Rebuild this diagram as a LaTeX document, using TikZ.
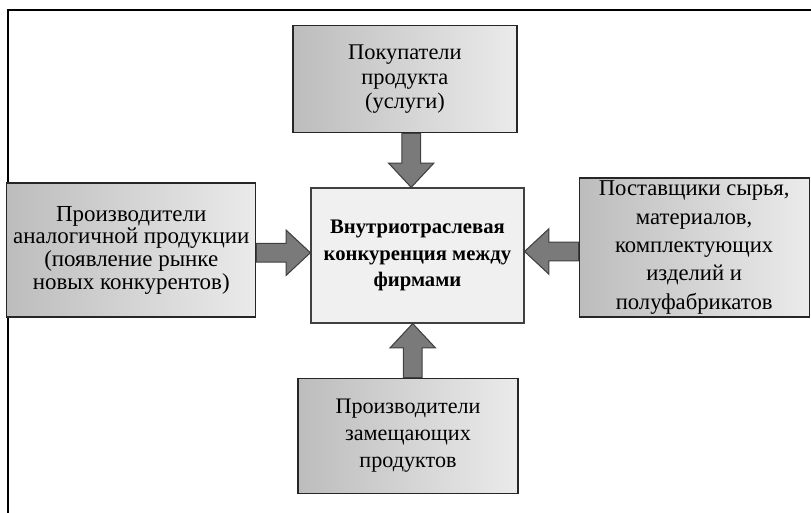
\documentclass[tikz,border=0pt]{standalone}
\usepackage{fontspec}
\setmainfont{Liberation Serif}
\usetikzlibrary{positioning,calc}

\begin{document}
\begin{tikzpicture}[
  side/.style={draw=black!85, line width=0.9pt, align=center, inner sep=1pt,
    left color=black!26, right color=black!8},
  core/.style={draw=black!75, line width=0.9pt, align=center, inner sep=2pt,
    fill=black!6, font=\bfseries\fontsize{15.5}{20}\selectfont},
  blk/.style={draw=black!75, line width=0.8pt, fill=black!52},
  frameline/.style={line width=1.5pt},
  node distance=40.5pt
]
  \useasboundingbox (0,0) rectangle (608.25pt,-384pt);
  \draw[frameline] (6pt,-7.5pt) rectangle (640pt,-420pt);

  \node[core, minimum width=159.75pt, minimum height=101.25pt] (mid) at (313.1pt,-191.6pt)
    {Внутриотраслевая\\ конкуренция между\\ фирмами};
  \node[side, minimum width=168pt, minimum height=80.25pt, above=of mid, xshift=-9.4pt,
    font=\fontsize{16.8}{18.5}\selectfont] (buyers) {Покупатели\\ продукта\\ (услуги)};
  \node[side, minimum width=186.75pt, minimum height=100.5pt, left=of mid, yshift=4.1pt,
    font=\fontsize{17.2}{17}\selectfont] (rivals)
    {Производители\\ аналогичной продукции\\ (появление рынке\\ новых конкурентов)};
  \node[side, minimum width=172.5pt, minimum height=104.25pt, right=of mid, yshift=6pt,
    font=\fontsize{17}{21.3}\selectfont] (suppliers)
    {Поставщики сырья,\\ материалов,\\ комплектующих\\ изделий и\\ полуфабрикатов};
  \node[side, minimum width=165pt, minimum height=86.25pt, below=of mid, xshift=-7.1pt,
    font=\fontsize{16.6}{20}\selectfont] (substitutes)
    {Производители\\ замещающих\\ продуктов};

  % ends of the block arrows
  \coordinate (c1) at ($(buyers.south)!.5!(mid.north)$);
  \coordinate (a1) at (c1 |- buyers.south);  \coordinate (b1) at (c1 |- mid.north);
  \coordinate (c2) at ($(rivals.east)!.5!(mid.west)$);
  \coordinate (a2) at (c2 -| rivals.east);   \coordinate (b2) at (c2 -| mid.west);
  \coordinate (c3) at ($(suppliers.west)!.5!(mid.east)$);
  \coordinate (a3) at (c3 -| suppliers.west); \coordinate (b3) at (c3 -| mid.east);
  \coordinate (c4) at ($(substitutes.north)!.5!(mid.south)$);
  \coordinate (a4) at (c4 |- substitutes.north); \coordinate (b4) at (c4 |- mid.south);

  \foreach \i in {1,...,4} {
    \coordinate (h) at ($(a\i)!.55!(b\i)$);
    \draw[blk] ($(a\i)!7pt!90:(b\i)$) -- ($(h)!7pt!90:(b\i)$) -- ($(h)!17pt!90:(b\i)$)
      -- (b\i) -- ($(h)!17pt!-90:(b\i)$) -- ($(h)!7pt!-90:(b\i)$)
      -- ($(a\i)!7pt!-90:(b\i)$) -- cycle;
  }
\end{tikzpicture}
\end{document}
